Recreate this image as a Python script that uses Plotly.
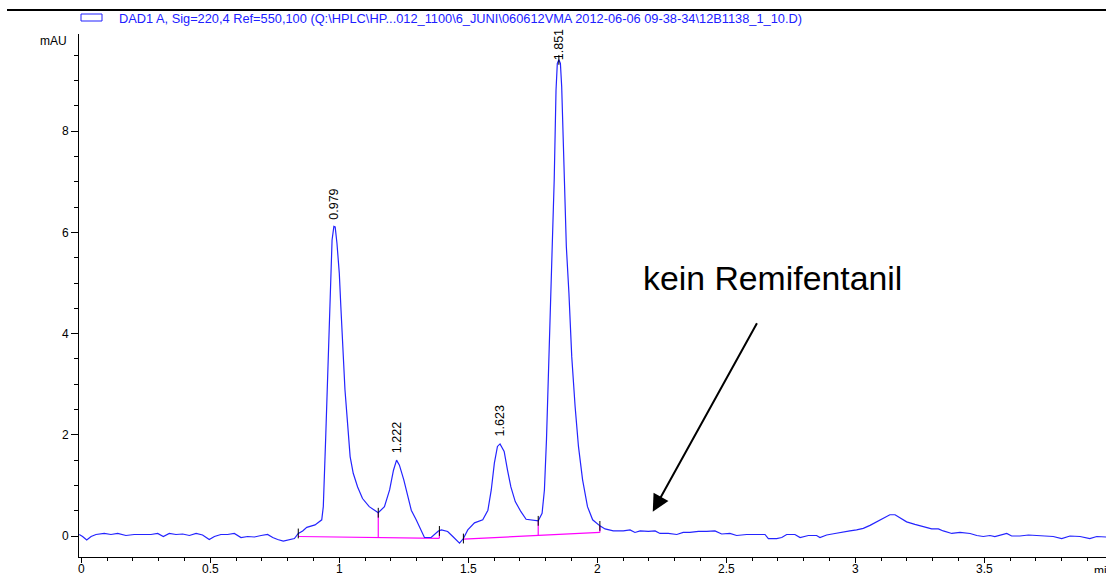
import plotly.graph_objects as go

# ---- chromatogram signal (min, mAU) ----
time_min = [
    -0.008, 0.005, 0.021, 0.038, 0.057, 0.089, 0.115, 0.141, 0.173, 0.205,
    0.238, 0.270, 0.296, 0.318, 0.341, 0.367, 0.393, 0.419, 0.445, 0.470,
    0.496, 0.516, 0.541, 0.567, 0.593, 0.619, 0.645, 0.671, 0.697, 0.722,
    0.742, 0.761, 0.783, 0.806, 0.826, 0.841, 0.858, 0.874, 0.906, 0.932,
    0.938, 0.947, 0.955, 0.962, 0.968, 0.972, 0.979, 0.984, 0.991, 1.000,
    1.006, 1.013, 1.022, 1.032, 1.042, 1.054, 1.071, 1.090, 1.116, 1.151,
    1.175, 1.195, 1.210, 1.222, 1.233, 1.250, 1.265, 1.279, 1.298, 1.317,
    1.330, 1.356, 1.384, 1.396, 1.420, 1.440, 1.466, 1.481, 1.498, 1.524,
    1.556, 1.576, 1.589, 1.601, 1.613, 1.623, 1.639, 1.652, 1.665, 1.682,
    1.704, 1.724, 1.771, 1.786, 1.795, 1.803, 1.811, 1.818, 1.826, 1.833,
    1.840, 1.845, 1.851, 1.857, 1.862, 1.871, 1.880, 1.890, 1.901, 1.914,
    1.927, 1.943, 1.962, 1.982, 2.010, 2.030, 2.062, 2.101, 2.127, 2.146,
    2.166, 2.198, 2.224, 2.243, 2.275, 2.308, 2.333, 2.359, 2.392, 2.424,
    2.456, 2.482, 2.514, 2.540, 2.579, 2.618, 2.650, 2.663, 2.695, 2.715,
    2.734, 2.766, 2.786, 2.818, 2.850, 2.863, 2.889, 2.921, 2.954, 2.979,
    3.005, 3.031, 3.057, 3.083, 3.109, 3.134, 3.154, 3.173, 3.199, 3.231,
    3.264, 3.296, 3.322, 3.341, 3.374, 3.406, 3.445, 3.471, 3.496, 3.522,
    3.541, 3.561, 3.587, 3.606, 3.638, 3.671, 3.703, 3.735, 3.767, 3.800,
    3.832, 3.871, 3.909, 3.936, 3.972,
]
signal_mau = [
    0.03, -0.01, -0.08, -0.01, 0.03, 0.05, 0.03, 0.05, 0.01, 0.03,
    0.03, 0.03, 0.05, -0.01, 0.05, 0.03, 0.04, 0.01, 0.05, 0.02,
    -0.07, -0.01, 0.03, 0.03, 0.05, -0.03, -0.01, -0.02, 0.01, 0.03,
    -0.03, -0.07, -0.10, -0.07, -0.05, 0.05, 0.10, 0.17, 0.22, 0.32,
    0.58, 1.90, 3.21, 4.53, 5.19, 5.85, 6.12, 6.11, 5.78, 5.19,
    4.53, 3.87, 2.89, 2.23, 1.57, 1.24, 0.97, 0.74, 0.58, 0.46,
    0.58, 0.91, 1.30, 1.50, 1.40, 1.11, 0.78, 0.51, 0.32, 0.12,
    -0.03, -0.03, 0.10, 0.12, 0.09, -0.01, -0.14, -0.05, 0.12, 0.26,
    0.32, 0.51, 0.91, 1.44, 1.77, 1.82, 1.67, 1.30, 0.97, 0.68,
    0.48, 0.33, 0.30, 0.45, 0.91, 1.90, 3.21, 4.53, 5.85, 7.04,
    8.81, 9.34, 9.41, 9.34, 8.88, 7.04, 5.72, 4.80, 3.54, 2.56,
    1.77, 1.11, 0.58, 0.32, 0.20, 0.14, 0.10, 0.10, 0.12, 0.07,
    0.10, 0.09, 0.10, 0.05, 0.05, 0.03, 0.07, 0.07, 0.09, 0.09,
    0.10, 0.04, 0.05, 0.01, 0.03, 0.03, 0.03, -0.05, -0.05, -0.03,
    0.03, 0.03, -0.03, 0.01, 0.01, -0.03, 0.02, 0.05, 0.07, 0.10,
    0.12, 0.15, 0.21, 0.28, 0.36, 0.42, 0.42, 0.36, 0.28, 0.23,
    0.18, 0.14, 0.14, 0.10, 0.05, 0.07, 0.05, 0.01, -0.01, 0.01,
    -0.01, 0.01, 0.05, 0.00, 0.00, 0.02, 0.01, 0.00, -0.01, -0.05,
    0.00, -0.01, -0.05, -0.01, -0.02,
]

# ---- integration baselines (magenta) ----
baseline1_t = [0.841, 1.388]
baseline1_v = [-0.01, -0.045]
baseline2_t = [1.481, 2.010]
baseline2_v = [-0.06, 0.07]
drop_t = [1.151, 1.388, 1.771, 2.010]
drop_lo = [-0.03, -0.045, 0.02, 0.07]
drop_hi = [0.46, 0.10, 0.32, 0.20]

# integration event marks
event_t = [0.841, 1.151, 1.388, 1.481, 1.771, 2.010, 1.851]
event_v = [0.05, 0.46, 0.10, -0.05, 0.30, 0.20, 9.41]

# ---- peak labels ----
peak_rt = [0.979, 1.222, 1.623, 1.851]
peak_height = [6.12, 1.50, 1.82, 9.41]
peak_labels = ["0.979", "1.222", "1.623", "1.851"]

x_ticks = [0, 0.5, 1, 1.5, 2, 2.5, 3, 3.5]
x_tick_text = ["0", "0.5", "1", "1.5", "2", "2.5", "3", "3.5"]
y_ticks = [0, 2, 4, 6, 8]

legend_text = ("DAD1 A, Sig=220,4 Ref=550,100 (Q:\\HPLC\\HP...012_1100\\6_JUNI\\"
               "060612VMA 2012-06-06 09-38-34\\12B1138_1_10.D)")
note_text = "kein Remifentanil"
arrow_tip = (2.215, 0.48)

FONT = "Liberation Sans, Arial, sans-serif"
W, H = 1106, 573
ML, MR, MT, MB = 79, 0, 34, 16
PW, PH = W - ML - MR, H - MT - MB


def px(xp):
    return (xp - ML) / PW


def py(yp):
    return (H - MB - yp) / PH


fig = go.Figure()

# baselines
for bt, bv in ((baseline1_t, baseline1_v), (baseline2_t, baseline2_v)):
    fig.add_trace(go.Scatter(x=bt, y=bv, mode="lines",
                             line=dict(color="#ff00ff", width=1.2),
                             hoverinfo="skip", showlegend=False))
for t, lo, hi in zip(drop_t, drop_lo, drop_hi):
    fig.add_trace(go.Scatter(x=[t, t], y=[lo, hi], mode="lines",
                             line=dict(color="#ff00ff", width=1.2),
                             hoverinfo="skip", showlegend=False))

# signal
fig.add_trace(go.Scatter(x=time_min, y=signal_mau, mode="lines",
                         line=dict(color="#2424ff", width=1.2),
                         showlegend=False))

# event marks
fig.add_trace(go.Scatter(x=event_t, y=event_v, mode="markers",
                         marker=dict(symbol="line-ns", size=7,
                                     line=dict(color="black", width=1)),
                         hoverinfo="skip", showlegend=False))

annotations = []
for rt, h, lab in zip(peak_rt, peak_height, peak_labels):
    annotations.append(dict(x=rt, y=h, xref="x", yref="y", text=lab,
                            textangle=-90, showarrow=False,
                            xanchor="center", yanchor="bottom",
                            yshift=5 if h < 9 else -2,
                            font=dict(family=FONT, size=12.5, color="black")))

annotations += [
    dict(x=0, y=1, xref="paper", yref="paper", text="mAU", showarrow=False,
         xanchor="center", yanchor="middle", xshift=-26, yshift=-7,
         font=dict(family=FONT, size=12, color="black")),
    dict(x=1, y=0, xref="paper", yref="paper", text="min", showarrow=False,
         xanchor="left", yanchor="top", xshift=-14, yshift=-5,
         font=dict(family=FONT, size=12, color="black")),
    dict(x=px(117), y=py(18), xref="paper", yref="paper", text=legend_text,
         showarrow=False, xanchor="left", yanchor="middle",
         font=dict(family=FONT, size=12.8, color="#2020ff")),
    dict(x=px(772), y=py(278), xref="paper", yref="paper", text=note_text,
         showarrow=False, xanchor="center", yanchor="middle",
         font=dict(family=FONT, size=33.8, color="black")),
    dict(x=arrow_tip[0], y=arrow_tip[1], xref="x", yref="y", text="",
         showarrow=True, ax=105, ay=-190, arrowhead=2, arrowsize=1.7,
         arrowwidth=2, arrowcolor="black", standoff=0),
]

shapes = [
    dict(type="line", xref="paper", yref="paper", x0=px(7), x1=1.0,
         y0=py(10), y1=py(10), line=dict(color="black", width=2)),
    dict(type="rect", xref="paper", yref="paper", x0=px(81), x1=px(102),
         y0=py(21), y1=py(14), line=dict(color="#2020ff", width=1)),
]

fig.update_layout(
    width=W, height=H,
    margin=dict(l=ML, r=MR, t=MT, b=MB, autoexpand=False),
    paper_bgcolor="white", plot_bgcolor="white",
    font=dict(family=FONT, size=12, color="black"),
    annotations=annotations, shapes=shapes, showlegend=False,
)
fig.update_xaxes(
    range=[-0.0089, 3.9717], showgrid=False, zeroline=False,
    showline=True, linecolor="black", linewidth=1,
    tickmode="array", tickvals=x_ticks, ticktext=x_tick_text,
    ticks="outside", ticklen=5, tickcolor="black", automargin=False,
    ticklabelstandoff=-4,
    tickfont=dict(family=FONT, size=12, color="black"),
    minor=dict(dtick=0.1, tick0=0, ticks="outside", ticklen=3,
               tickcolor="black", showgrid=False),
)
fig.update_yaxes(
    range=[-0.415, 9.921], showgrid=False, zeroline=False,
    showline=True, linecolor="black", linewidth=1,
    tickmode="array", tickvals=y_ticks,
    ticks="outside", ticklen=7, tickcolor="black", automargin=False,
    tickfont=dict(family=FONT, size=12, color="black"),
    minor=dict(dtick=0.5, tick0=0, ticks="outside", ticklen=4,
               tickcolor="black", showgrid=False),
)

fig.write_html(
    "out.html",
    config={"displayModeBar": False},
    post_script="document.body.style.margin='0';document.body.style.overflow='hidden';",
)
